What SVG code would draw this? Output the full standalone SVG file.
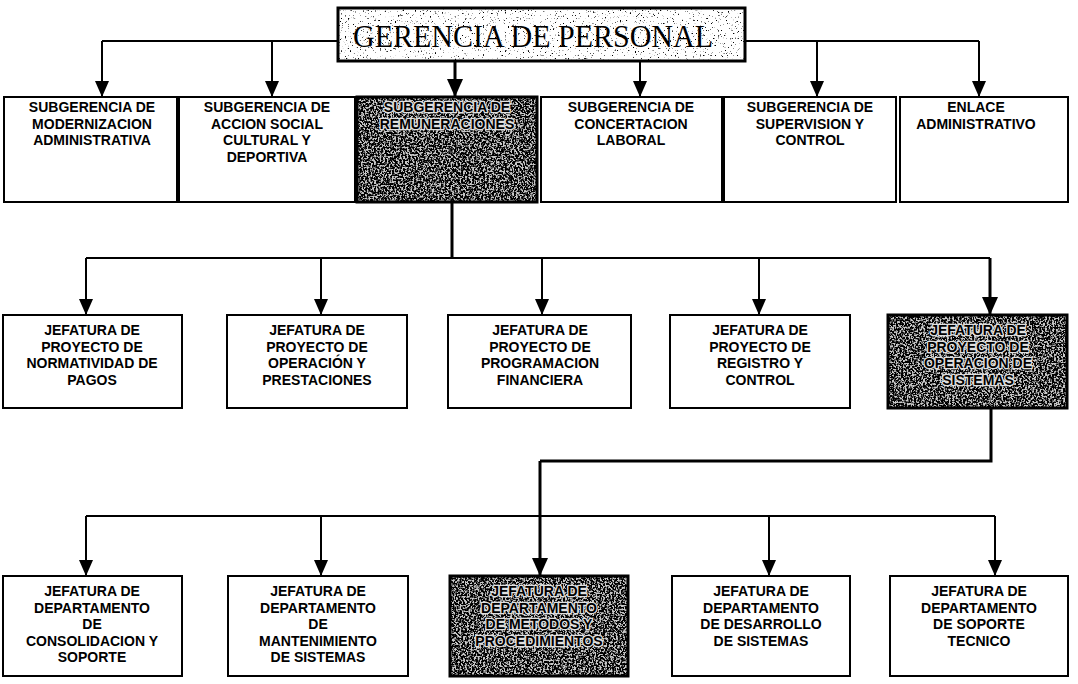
<svg xmlns="http://www.w3.org/2000/svg" width="1078" height="684" viewBox="0 0 1078 684">
<style>
  .box { fill: #ffffff; stroke: #000; stroke-width: 2; }
  .hbox { fill: none; stroke: #000; stroke-width: 3; }
  .lbl { font-family: "Liberation Sans", Arial, sans-serif; font-size: 14px; font-weight: bold; fill: #000; text-anchor: middle; }
  .hlbl { paint-order: stroke; stroke: #e0e0e0; stroke-width: 2.5px; stroke-linejoin: round; }
  .title { font-family: "Liberation Serif", "Times New Roman", serif; font-size: 31px; fill: #000; text-anchor: middle; }
  .ln { fill: none; stroke: #000; stroke-width: 2; }
  .th { fill: none; stroke: #000; stroke-width: 3; }
  .arr { marker-end: url(#ah); }
  .arrb { marker-end: url(#ahb); }
</style>
<defs>
  <marker id="ah" viewBox="0 0 16 14" refX="15" refY="7" markerWidth="16" markerHeight="14" markerUnits="userSpaceOnUse" orient="auto">
    <path d="M0,0 L16,7 L0,14 Z" fill="#000"/>
  </marker>
  <marker id="ahb" viewBox="0 0 18 16" refX="17" refY="8" markerWidth="18" markerHeight="16" markerUnits="userSpaceOnUse" orient="auto">
    <path d="M0,0 L18,8 L0,16 Z" fill="#000"/>
  </marker>
  <filter id="lightNoise" x="0" y="0" width="1" height="1">
    <feTurbulence type="fractalNoise" baseFrequency="0.6" numOctaves="3" seed="7" result="n"/>
    <feColorMatrix in="n" type="matrix" values="0 0 0 0 0  0 0 0 0 0  0 0 0 0 0  8 0 0 0 -5.2"/>
    <feComposite operator="in" in2="SourceGraphic"/>
  </filter>
  <filter id="darkNoise" x="0" y="0" width="1" height="1">
    <feTurbulence type="fractalNoise" baseFrequency="0.55" numOctaves="3" seed="3" result="n"/>
    <feColorMatrix in="n" type="matrix" values="0 0 0 0 0  0 0 0 0 0  0 0 0 0 0  6 0 0 0 -2.3"/>
    <feComposite operator="in" in2="SourceGraphic"/>
  </filter>
</defs>
<rect width="1078" height="684" fill="#ffffff"/>

<g id="connectors">
  <path class="ln" d="M102,41 H979"/>
  <path class="ln arr" d="M102,41 V96"/>
  <path class="ln arr" d="M272,41 V96"/>
  <path class="th arrb" d="M455,61 V96"/>
  <path class="ln arr" d="M640,61 V96"/>
  <path class="ln arr" d="M817,41 V96"/>
  <path class="ln arr" d="M979,41 V96"/>

  <path class="th" d="M452,202 V258"/>
  <path class="ln" d="M86,258 H990"/>
  <path class="ln arr" d="M86,258 V314"/>
  <path class="ln arr" d="M321,258 V314"/>
  <path class="ln arr" d="M542,258 V314"/>
  <path class="ln arr" d="M759,258 V314"/>
  <path class="th arrb" d="M990,258 V314"/>

  <path class="th" d="M991,408 V461 H540"/>
  <path class="th arrb" d="M540,461 V575"/>
  <path class="ln" d="M86,516 H995"/>
  <path class="ln arr" d="M86,516 V575"/>
  <path class="ln arr" d="M321,516 V575"/>
  <path class="ln arr" d="M769,516 V575"/>
  <path class="ln arr" d="M995,516 V575"/>
</g>

<g id="gerencia">
  <rect x="338" y="8" width="407" height="53" fill="#ffffff"/>
  <rect x="338" y="8" width="407" height="53" fill="#ffffff" filter="url(#lightNoise)"/>
  <rect class="hbox" x="338" y="8" width="407" height="53"/>
  <text class="title" x="533" y="47" textLength="360" lengthAdjust="spacingAndGlyphs">GERENCIA DE PERSONAL</text>
</g>

<g id="sub-modernizacion">
  <rect class="box" x="4" y="97" width="173" height="105"/>
  <text class="lbl" x="92" y="112"><tspan x="92">SUBGERENCIA DE</tspan><tspan x="92" dy="16.5">MODERNIZACION</tspan><tspan x="92" dy="16.5">ADMINISTRATIVA</tspan></text>
</g>
<g id="sub-accion-social">
  <rect class="box" x="179" y="97" width="176" height="105"/>
  <text class="lbl" x="267" y="112"><tspan x="267">SUBGERENCIA DE</tspan><tspan x="267" dy="16.5">ACCION SOCIAL</tspan><tspan x="267" dy="16.5">CULTURAL Y</tspan><tspan x="267" dy="16.5">DEPORTIVA</tspan></text>
</g>
<g id="sub-remuneraciones">
  <rect x="357" y="97" width="180" height="105" fill="#c8c8c8"/>
  <rect x="357" y="97" width="180" height="105" fill="#ffffff" filter="url(#darkNoise)"/>
  <rect class="hbox" x="357" y="97" width="180" height="105"/>
  <text class="lbl hlbl" x="447" y="112"><tspan x="447">SUBGERENCIA DE</tspan><tspan x="447" dy="16.5">REMUNERACIONES</tspan></text>
</g>
<g id="sub-concertacion">
  <rect class="box" x="541" y="97" width="181" height="105"/>
  <text class="lbl" x="631" y="112"><tspan x="631">SUBGERENCIA DE</tspan><tspan x="631" dy="16.5">CONCERTACION</tspan><tspan x="631" dy="16.5">LABORAL</tspan></text>
</g>
<g id="sub-supervision">
  <rect class="box" x="724" y="97" width="172" height="105"/>
  <text class="lbl" x="810" y="112"><tspan x="810">SUBGERENCIA DE</tspan><tspan x="810" dy="16.5">SUPERVISION Y</tspan><tspan x="810" dy="16.5">CONTROL</tspan></text>
</g>
<g id="enlace">
  <rect class="box" x="900" y="97" width="168" height="105"/>
  <text class="lbl" x="976" y="112"><tspan x="976">ENLACE</tspan><tspan x="976" dy="16.5">ADMINISTRATIVO</tspan></text>
</g>

<g id="jp-normatividad">
  <rect class="box" x="3" y="315" width="179" height="93"/>
  <text class="lbl" x="92" y="335"><tspan x="92">JEFATURA DE</tspan><tspan x="92" dy="16.5">PROYECTO DE</tspan><tspan x="92" dy="16.5">NORMATIVIDAD DE</tspan><tspan x="92" dy="16.5">PAGOS</tspan></text>
</g>
<g id="jp-operacion-prestaciones">
  <rect class="box" x="227" y="315" width="180" height="93"/>
  <text class="lbl" x="317" y="335"><tspan x="317">JEFATURA DE</tspan><tspan x="317" dy="16.5">PROYECTO DE</tspan><tspan x="317" dy="16.5">OPERACIÓN Y</tspan><tspan x="317" dy="16.5">PRESTACIONES</tspan></text>
</g>
<g id="jp-programacion">
  <rect class="box" x="448" y="315" width="183" height="93"/>
  <text class="lbl" x="540" y="335"><tspan x="540">JEFATURA DE</tspan><tspan x="540" dy="16.5">PROYECTO DE</tspan><tspan x="540" dy="16.5">PROGRAMACION</tspan><tspan x="540" dy="16.5">FINANCIERA</tspan></text>
</g>
<g id="jp-registro">
  <rect class="box" x="670" y="315" width="180" height="93"/>
  <text class="lbl" x="760" y="335"><tspan x="760">JEFATURA DE</tspan><tspan x="760" dy="16.5">PROYECTO DE</tspan><tspan x="760" dy="16.5">REGISTRO Y</tspan><tspan x="760" dy="16.5">CONTROL</tspan></text>
</g>
<g id="jp-operacion-sistemas">
  <rect x="888" y="315" width="179" height="93" fill="#c8c8c8"/>
  <rect x="888" y="315" width="179" height="93" fill="#ffffff" filter="url(#darkNoise)"/>
  <rect class="hbox" x="888" y="315" width="179" height="93"/>
  <text class="lbl hlbl" x="978" y="335"><tspan x="978">JEFATURA DE</tspan><tspan x="978" dy="16.5">PROYECTO DE</tspan><tspan x="978" dy="16.5">OPERACION DE</tspan><tspan x="978" dy="16.5">SISTEMAS</tspan></text>
</g>

<g id="jd-consolidacion">
  <rect class="box" x="3" y="576" width="179" height="100"/>
  <text class="lbl" x="92" y="596"><tspan x="92">JEFATURA DE</tspan><tspan x="92" dy="16.5">DEPARTAMENTO</tspan><tspan x="92" dy="16.5">DE</tspan><tspan x="92" dy="16.5">CONSOLIDACION Y</tspan><tspan x="92" dy="16.5">SOPORTE</tspan></text>
</g>
<g id="jd-mantenimiento">
  <rect class="box" x="228" y="576" width="180" height="100"/>
  <text class="lbl" x="318" y="596"><tspan x="318">JEFATURA DE</tspan><tspan x="318" dy="16.5">DEPARTAMENTO</tspan><tspan x="318" dy="16.5">DE</tspan><tspan x="318" dy="16.5">MANTENIMIENTO</tspan><tspan x="318" dy="16.5">DE SISTEMAS</tspan></text>
</g>
<g id="jd-metodos">
  <rect x="450" y="576" width="178" height="100" fill="#c8c8c8"/>
  <rect x="450" y="576" width="178" height="100" fill="#ffffff" filter="url(#darkNoise)"/>
  <rect class="hbox" x="450" y="576" width="178" height="100"/>
  <text class="lbl hlbl" x="539" y="596"><tspan x="539">JEFATURA DE</tspan><tspan x="539" dy="16.5">DEPARTAMENTO</tspan><tspan x="539" dy="16.5">DE METODOS Y</tspan><tspan x="539" dy="16.5">PROCEDIMIENTOS</tspan></text>
</g>
<g id="jd-desarrollo">
  <rect class="box" x="672" y="576" width="178" height="100"/>
  <text class="lbl" x="761" y="596"><tspan x="761">JEFATURA DE</tspan><tspan x="761" dy="16.5">DEPARTAMENTO</tspan><tspan x="761" dy="16.5">DE DESARROLLO</tspan><tspan x="761" dy="16.5">DE SISTEMAS</tspan></text>
</g>
<g id="jd-soporte-tecnico">
  <rect class="box" x="890" y="576" width="178" height="100"/>
  <text class="lbl" x="979" y="596"><tspan x="979">JEFATURA DE</tspan><tspan x="979" dy="16.5">DEPARTAMENTO</tspan><tspan x="979" dy="16.5">DE SOPORTE</tspan><tspan x="979" dy="16.5">TECNICO</tspan></text>
</g>
</svg>
